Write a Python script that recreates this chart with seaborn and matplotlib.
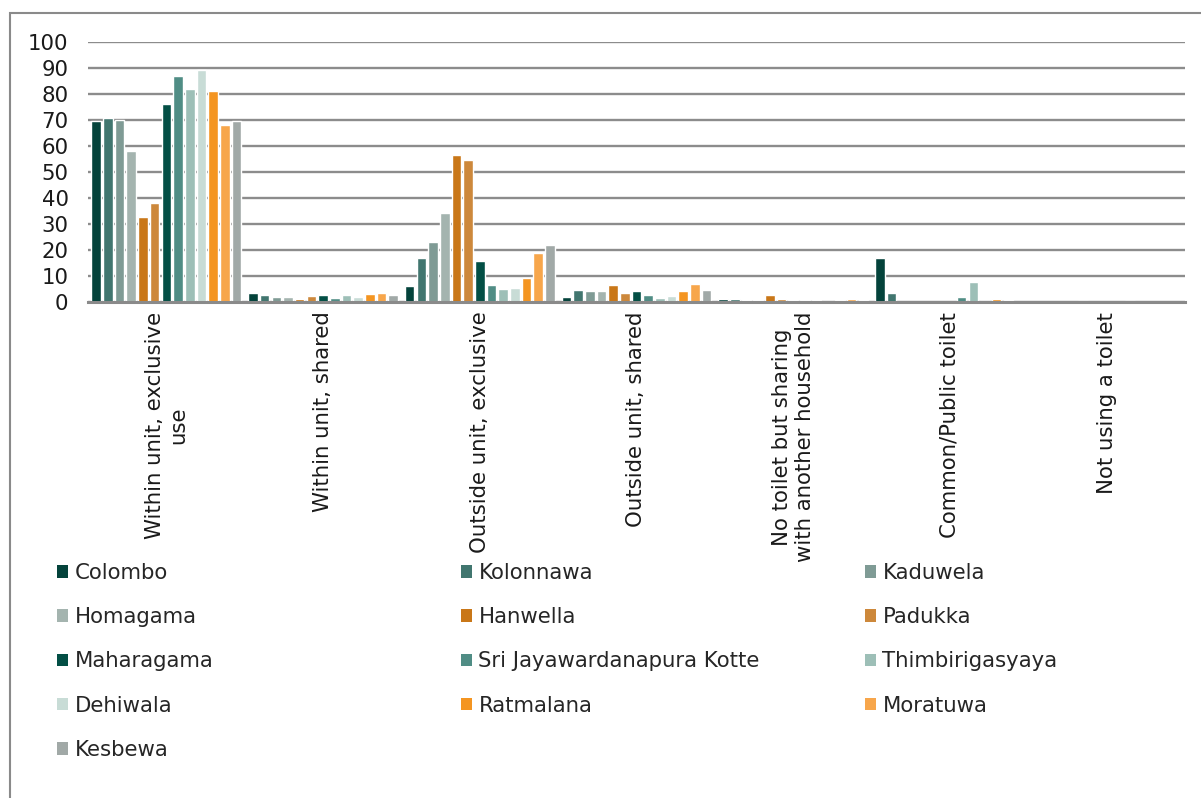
import seaborn as sns
import pandas as pd
import matplotlib.pyplot as plt
from matplotlib.patches import Patch, Rectangle

# toilet facility types (x categories)
categories = ['Within unit, exclusive\nuse', 'Within unit, shared', 'Outside unit, exclusive',
              'Outside unit, shared', 'No toilet but sharing\nwith another household',
              'Common/Public toilet', 'Not using a toilet']

districts = ['Colombo', 'Kolonnawa', 'Kaduwela', 'Homagama', 'Hanwella', 'Padukka',
             'Maharagama', 'Sri Jayawardanapura Kotte', 'Thimbirigasyaya', 'Dehiwala',
             'Ratmalana', 'Moratuwa', 'Kesbewa']

# percentages per district, one value per category
colombo = [69.7, 3.3, 6.2, 1.9, 1.0, 17.1, 0.0]
kolonnawa = [70.9, 2.6, 17.1, 4.5, 1.3, 3.3, 0.0]
kaduwela = [70.0, 1.9, 22.9, 4.1, 0.9, 0.0, 0.0]
homagama = [57.9, 1.9, 34.2, 4.4, 0.9, 0.0, 0.0]
hanwella = [32.6, 1.3, 56.5, 6.4, 2.6, 0.0, 0.2]
padukka = [37.9, 2.3, 54.5, 3.5, 1.3, 0.0, 0.0]
maharagama = [76.3, 2.7, 15.6, 4.1, 0.6, 0.0, 0.0]
kotte = [86.8, 1.7, 6.4, 2.6, 0.6, 2.0, 0.0]
thimbirigasyaya = [81.9, 2.7, 5.0, 1.4, 0.6, 7.7, 0.2]
dehiwala = [89.2, 2.1, 5.4, 2.2, 0.3, 0.3, 0.0]
ratmalana = [81.0, 3.1, 9.4, 4.2, 0.6, 1.3, 0.0]
moratuwa = [68.1, 3.5, 18.8, 6.9, 1.0, 0.9, 0.0]
kesbewa = [69.6, 2.7, 21.9, 4.7, 0.6, 0.0, 0.0]

series = [colombo, kolonnawa, kaduwela, homagama, hanwella, padukka, maharagama,
          kotte, thimbirigasyaya, dehiwala, ratmalana, moratuwa, kesbewa]

colors = ['#04433b', '#41766f', '#7f9b95', '#a4b4af', '#c97718', '#cd883b', '#034f45',
          '#508d85', '#9dbfb7', '#c8dcd6', '#f49521', '#f7a64b', '#a1a9a7']

rows = []
for d, vals in zip(districts, series):
    for c, v in zip(categories, vals):
        rows.append({'Type': c, 'District': d, 'Percent': v})
df = pd.DataFrame(rows)

sns.set_style('white')
plt.rcParams['font.family'] = ['DejaVu Sans']
fs = 15.3

fig = plt.figure(figsize=(12.01, 7.98), dpi=100)
ax = fig.add_axes([88 / 1201, 1 - 302 / 798, (1185 - 88) / 1201, 260 / 798])

sns.barplot(data=df, x='Type', y='Percent', hue='District', order=categories,
            hue_order=districts, palette=colors, saturation=1, width=0.97, gap=0.18,
            legend=False, ax=ax)

ax.set_ylim(0, 100)
ax.set_yticks(range(0, 101, 10))
ax.set_xlim(-0.5, 6.5)
ax.set_xlabel('')
ax.set_ylabel('')
ax.yaxis.grid(True, color='#8c8c8c', lw=1.7)
ax.set_axisbelow(True)
for s in ['top', 'right', 'left']:
    ax.spines[s].set_visible(False)
ax.spines['bottom'].set_color('#8a8a8a')
ax.spines['bottom'].set_linewidth(2.2)
ax.tick_params(axis='y', length=0, pad=14, labelsize=fs, labelcolor='#1a1a1a')
ax.tick_params(axis='x', length=0, pad=7, labelsize=fs, labelcolor='#1a1a1a')
ax.set_xticks(range(len(categories)))
ax.set_xticklabels(categories, rotation=90, ha='center', va='top', multialignment='center')

# legend in three columns, row-major order
handles = [Patch(facecolor=c, edgecolor='none') for c in colors]
col_x = [57 / 1201, 461 / 1201, 865 / 1201]
for k in range(3):
    idx = list(range(k, len(districts), 3))
    fig.legend([handles[i] for i in idx], [districts[i] for i in idx], loc='upper left',
               bbox_to_anchor=(col_x[k], 1 - 563 / 798), frameon=False, fontsize=fs,
               handlelength=0.52, handleheight=0.52, handletextpad=0.3,
               labelspacing=1.14, borderpad=0, borderaxespad=0)

# outer chart border
fig.add_artist(Rectangle((10 / 1201, -0.05), 1.1, 1 - 13 / 798 + 0.05,
                         transform=fig.transFigure, fill=False,
                         edgecolor='#8a8a8a', lw=1.5))

fig.savefig('out.png', dpi=100)
